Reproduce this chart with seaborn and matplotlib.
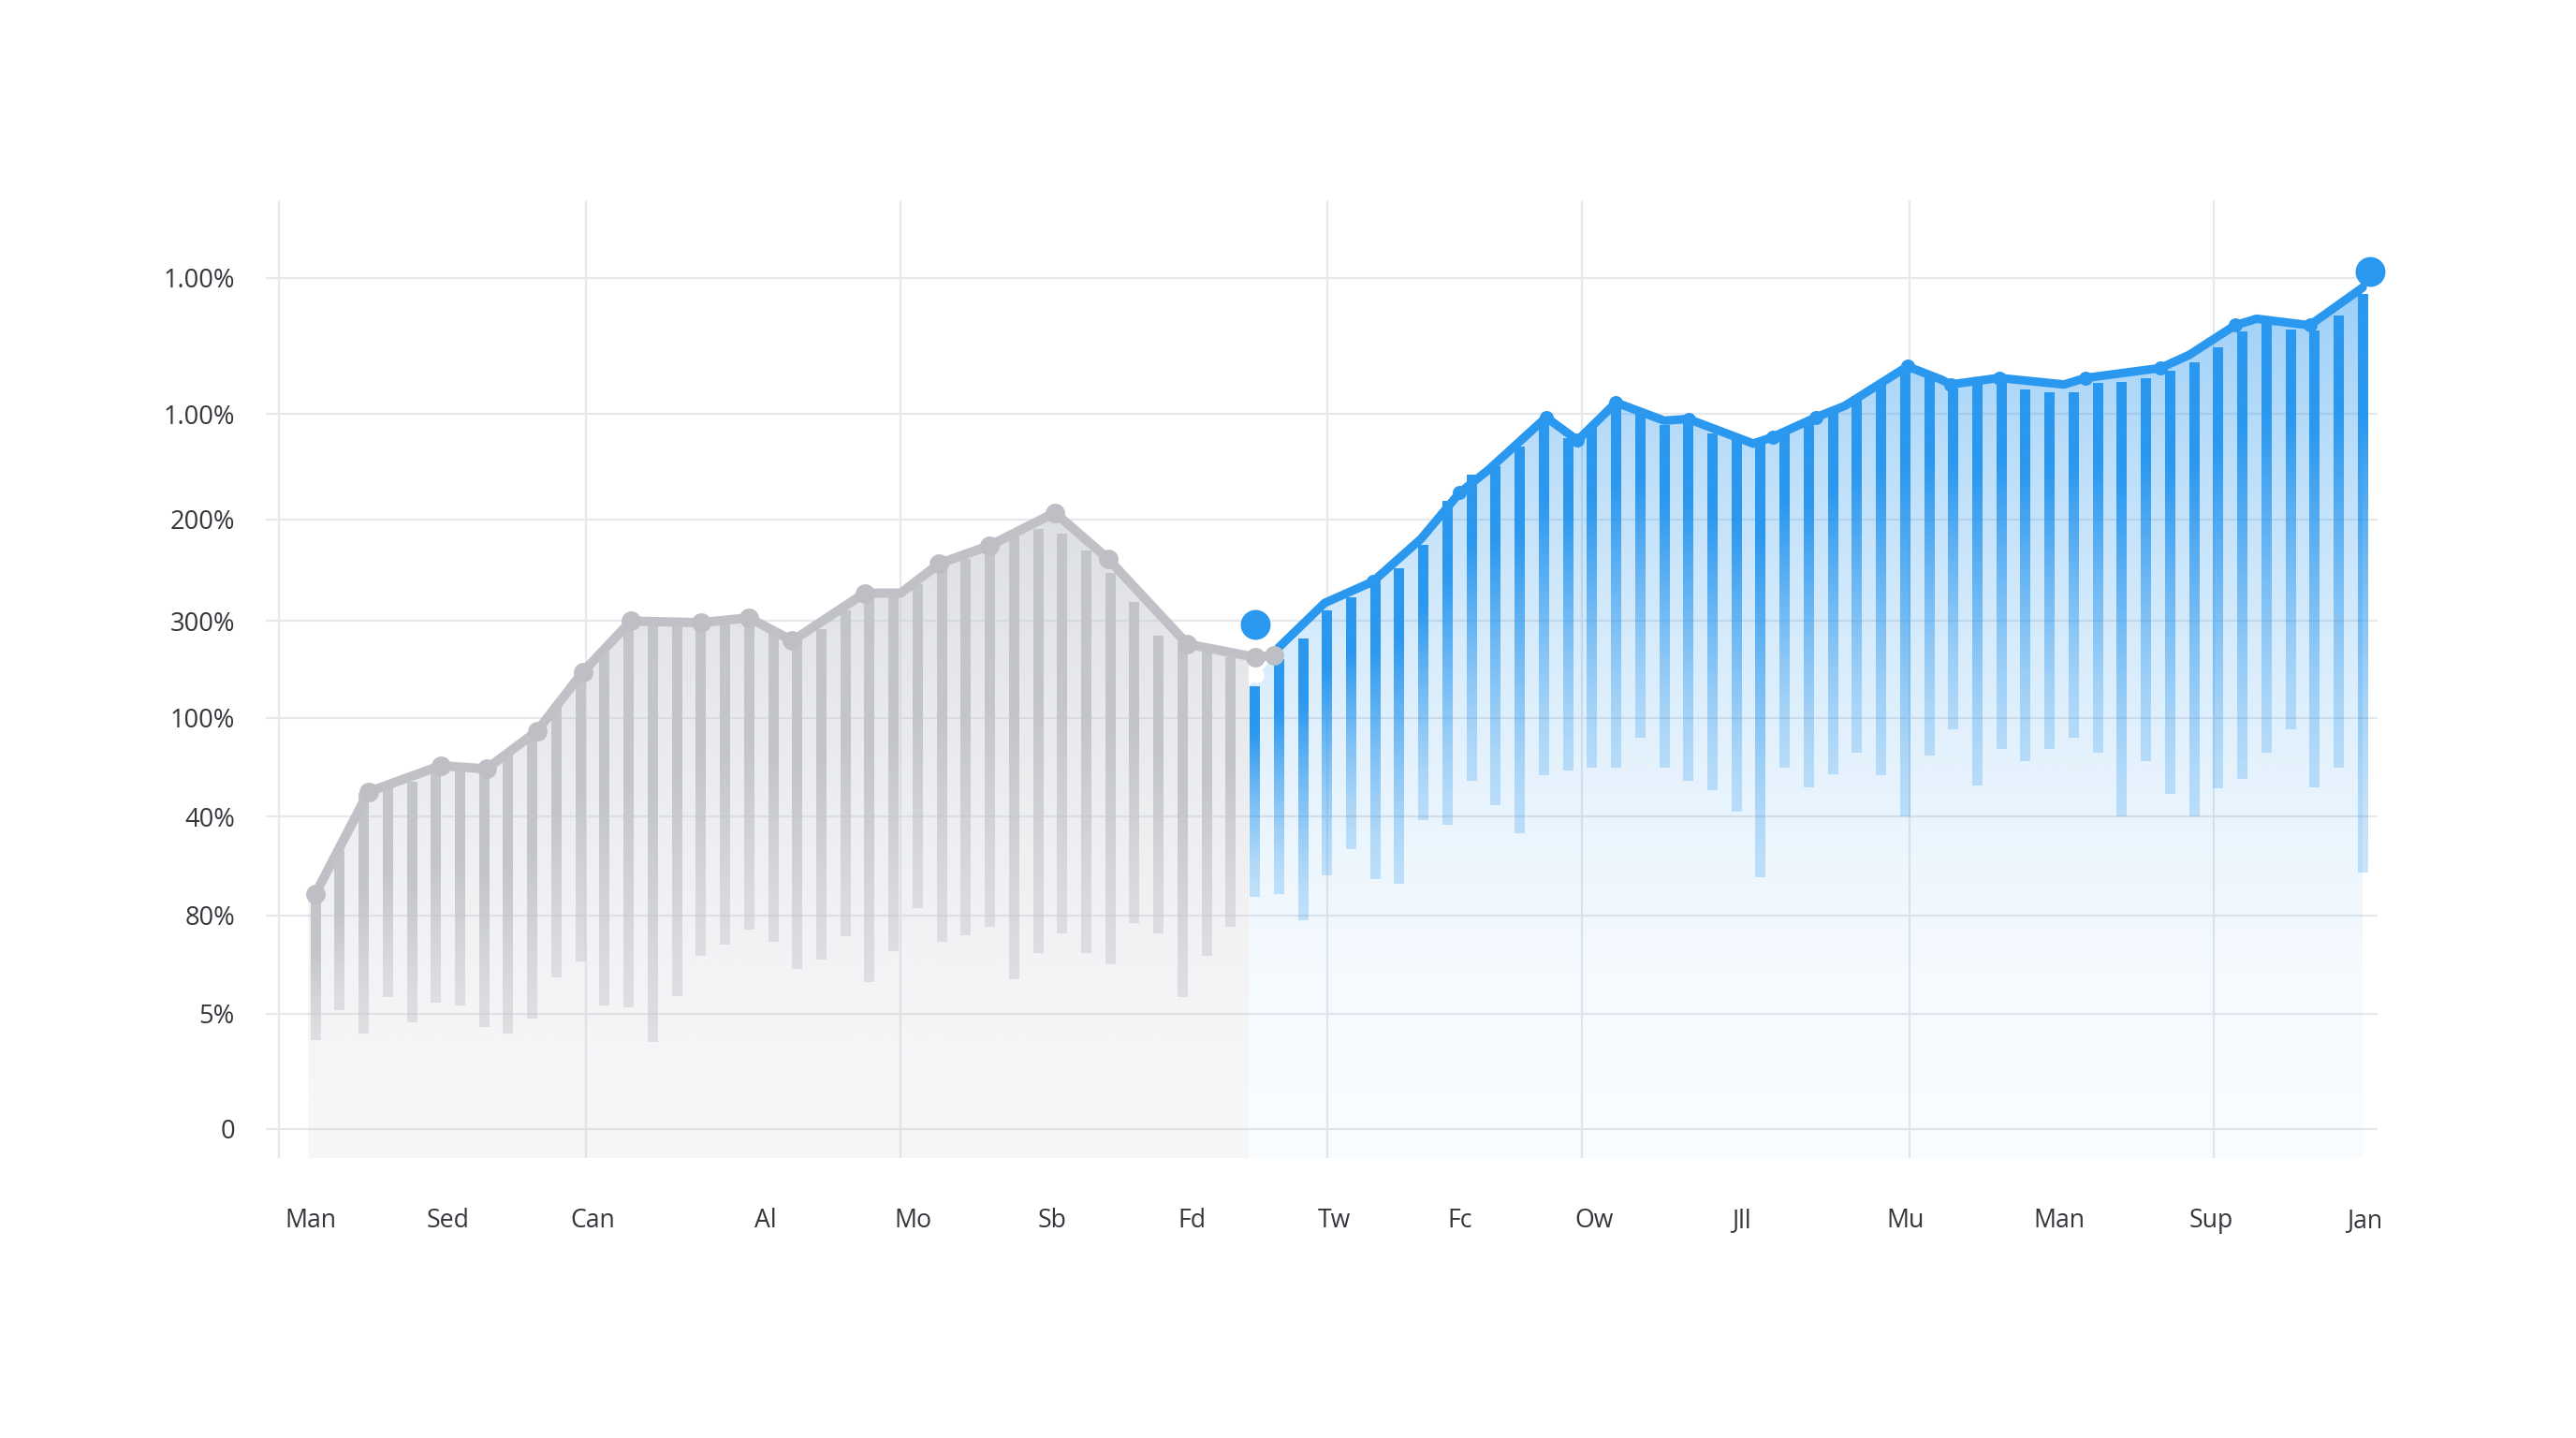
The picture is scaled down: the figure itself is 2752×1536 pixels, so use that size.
"""
Grey/blue range-bar trend chart with gradient bars and line overlay.
"""
import matplotlib
matplotlib.use("Agg")
import matplotlib.pyplot as plt
from matplotlib.patches import Polygon
from matplotlib.colors import to_rgb
import seaborn as sns
import pandas as pd
import numpy as np

sns.set_theme(style="white")
plt.rcParams["font.family"] = ["Open Sans", "DejaVu Sans"]

COLORS = {
    "grey_bar": "#c3c5ca",
    "grey_line": "#bfc1c6",
    "grey_area": "#c6c9cf",
    "blue": "#2b98ef",
    "grid": "#e6e8eb",
    "text": "#33363b",
}

# ---- data ----
GREY_TOP = [143, 169, 204, 207, 211, 221, 220, 219, 229, 241, 258, 278, 290,
            308, 308, 307, 307, 309, 311, 302, 297, 304, 315, 326, 326, 331,
            344, 347, 355, 360, 365, 362, 352, 338, 320, 300, 293, 290, 287]
GREY_BOTTOM = [54, 72, 58, 80, 65, 77, 75, 62, 58, 67, 92, 102, 75, 74, 53,
               81, 105, 112, 121, 114, 97, 103, 117, 89, 108, 134, 114, 118,
               123, 91, 107, 119, 107, 100, 125, 119, 80, 105, 123]
BLUE_TOP = [269, 286, 298, 315, 323, 331, 341, 355, 382, 398, 403, 415, 429,
            420, 428, 442, 438, 428, 430, 423, 419, 420, 426, 431, 438, 446,
            454, 462, 457, 450, 453, 456, 450, 448, 448, 454, 454, 457, 461,
            466, 475, 485, 491, 486, 486, 495, 508]
BLUE_BOTTOM = [141, 143, 127, 154, 170, 152, 149, 188, 185, 212, 197, 180,
               215, 218, 220, 220, 238, 220, 212, 206, 193, 153, 220, 208,
               216, 229, 215, 190, 227, 243, 209, 231, 224, 231, 238, 229,
               190, 224, 204, 190, 207, 213, 229, 243, 208, 220, 156]

GREY_LINE_X = [0, 2.2, 5.2, 7.1, 9.2, 11.1, 13.1, 16.0, 18.0, 19.8, 22.8,
               24.3, 25.9, 28.0, 30.7, 32.9, 36.2, 39.0, 39.8]
GREY_LINE_Y = [143, 205, 221, 219, 242, 278, 309, 308, 311, 297, 326,
               326, 344, 355, 375, 347, 295, 287, 288]
GREY_MARK_X = [0, 2.2, 5.2, 7.1, 9.2, 11.1, 13.1, 16.0, 18.0, 19.8, 22.8,
               25.9, 28.0, 30.7, 32.9, 36.2, 39.0, 39.8]
GREY_MARK_Y = [143, 205, 221, 219, 242, 278, 309, 308, 311, 297, 326,
               344, 355, 375, 347, 295, 287, 288]

BLUE_LINE_X = [39.8, 40.0, 41.9, 43.9, 45.9, 47.5, 48.7, 51.1, 52.4, 54.0,
               56.0, 57.0, 59.7, 60.5, 62.3, 63.5, 66.1, 67.5, 67.9, 69.9,
               72.6, 73.5, 76.6, 77.8, 79.7, 80.6, 82.8, 85.0]
BLUE_LINE_Y = [288, 293, 320, 333, 359, 387, 401, 433, 419, 442,
               431, 432, 417, 421, 433, 440, 464, 456, 453, 457,
               453, 457, 463, 471, 489, 493, 489, 512]
BLUE_MARK_X = [43.9, 47.5, 51.1, 52.4, 54.0, 57.0, 60.5, 62.3, 66.1, 67.9,
               69.9, 73.5, 76.6, 79.7, 82.8]
BLUE_MARK_Y = [333, 387, 433, 419, 442, 432, 421, 433, 464, 453,
               457, 457, 463, 489, 489]
HIGHLIGHT_X = [39.0, 85.3]
HIGHLIGHT_Y = [307, 522]

Y_TICK_POS = [0, 70, 130, 190, 250, 309, 371, 435, 518]
Y_TICK_LABELS = ["0", "5%", "80%", "40%", "100%", "300%", "200%",
                 "1.00%", "1.00%"]
X_TICK_POS = [-0.2, 5.5, 11.5, 18.7, 24.8, 30.6, 36.4, 42.3, 47.5, 53.1,
              59.2, 66.0, 72.4, 78.7, 85.1]
X_TICK_LABELS = ["Man", "Sed", "Can", "Al", "Mo", "Sb", "Fd", "Tw", "Fc",
                 "Ow", "Jll", "Mu", "Man", "Sup", "Jan"]
GRID_X = [-1.5, 11.25, 24.3, 42.0, 52.6, 66.2, 78.8]

XLIM = (-2.05, 85.6)
YLIM = (-18, 565)
SPLIT = 38.75
BAR_W = 0.42


def gradient(color, alphas):
    rgb = to_rgb(color)
    img = np.zeros((len(alphas), 1, 4))
    img[..., 0], img[..., 1], img[..., 2] = rgb
    img[:, 0, 3] = alphas
    return img


def draw_bars(ax, xs, tops, bottoms, color, a_low, full_frac, power):
    t = np.linspace(0, 1, 200)
    ramp = np.clip(t / (1 - full_frac), 0, 1) ** power
    img = gradient(color, a_low + (1 - a_low) * ramp)
    for x, top, bot in zip(xs, tops, bottoms):
        ax.imshow(img, extent=[x - BAR_W / 2, x + BAR_W / 2, bot, top],
                  origin="lower", aspect="auto", zorder=2,
                  interpolation="bilinear")


def draw_area(ax, poly_pts, color, alpha_fn, x0, x1):
    v = np.linspace(YLIM[0], YLIM[1], 300)
    img = gradient(color, alpha_fn(np.clip(v, 0, None)))
    im = ax.imshow(img, extent=[x0, x1, YLIM[0], YLIM[1]], origin="lower",
                   aspect="auto", zorder=1, interpolation="bilinear")
    poly = Polygon(poly_pts, closed=True, transform=ax.transData)
    im.set_clip_path(poly)


fig = plt.figure(figsize=(13.76, 7.68), dpi=200, facecolor="white")
ax = fig.add_axes([0.1033, 0.1945, 0.8195, 0.6661])
ax.set_facecolor("white")

grey_x = np.arange(len(GREY_TOP))
blue_x = np.arange(len(GREY_TOP), len(GREY_TOP) + len(BLUE_TOP))

# background areas under the lines
grey_poly = ([(-0.3, YLIM[0]), (-0.3, GREY_LINE_Y[0])]
             + list(zip(GREY_LINE_X[:-2], GREY_LINE_Y[:-2]))
             + [(SPLIT, GREY_LINE_Y[-2]), (SPLIT, YLIM[0])])
draw_area(ax, grey_poly, COLORS["grey_area"],
          lambda v: 0.16 + 0.34 * (v / 320) ** 1.5, -0.3, SPLIT)
blue_poly = ([(SPLIT, YLIM[0]), (SPLIT, BLUE_TOP[0])]
             + list(zip(BLUE_LINE_X, BLUE_LINE_Y))
             + [(BLUE_LINE_X[-1], YLIM[0])])
draw_area(ax, blue_poly, COLORS["blue"],
          lambda v: 0.03 + 0.36 * (v / 460) ** 1.8, SPLIT, BLUE_LINE_X[-1])

# gradient range bars
draw_bars(ax, grey_x, GREY_TOP, GREY_BOTTOM, COLORS["grey_bar"], 0.45, 0.4, 1.3)
draw_bars(ax, blue_x, BLUE_TOP, BLUE_BOTTOM, COLORS["blue"], 0.25, 0.22, 1.5)

# lines and markers
grey_df = pd.DataFrame({"x": GREY_LINE_X, "y": GREY_LINE_Y})
blue_df = pd.DataFrame({"x": BLUE_LINE_X, "y": BLUE_LINE_Y})
sns.lineplot(data=grey_df, x="x", y="y", sort=False, estimator=None,
             color=COLORS["grey_line"], linewidth=3.6, ax=ax, zorder=3,
             solid_capstyle="round", solid_joinstyle="round")
sns.lineplot(data=blue_df, x="x", y="y", sort=False, estimator=None,
             color=COLORS["blue"], linewidth=3.3, ax=ax, zorder=3,
             solid_capstyle="round", solid_joinstyle="round")
ax.plot(GREY_MARK_X, GREY_MARK_Y, "o", ms=7.5, color="#bdbfc4",
        mec="none", zorder=4)
ax.plot(BLUE_MARK_X, BLUE_MARK_Y, "o", ms=5.4, color=COLORS["blue"],
        mec="none", zorder=4)
ax.plot([SPLIT + 0.3], [BLUE_TOP[0] + 7], "o", ms=6, color="white",
        mec="none", zorder=3.5)
ax.plot(HIGHLIGHT_X, HIGHLIGHT_Y, "o", ms=11.5, color=COLORS["blue"],
        mec="none", zorder=5, clip_on=False)

# grid / axes styling
for gx in GRID_X:
    ax.axvline(gx, color=COLORS["grid"], linewidth=0.8, zorder=0)
ax.set_yticks(Y_TICK_POS)
ax.set_yticklabels(Y_TICK_LABELS)
ax.set_xticks(X_TICK_POS)
ax.set_xticklabels(X_TICK_LABELS)
ax.grid(axis="y", color=COLORS["grid"], linewidth=0.8, zorder=0)
ax.grid(axis="x", visible=False)
ax.set_axisbelow(True)
ax.tick_params(axis="y", length=0, pad=12, labelsize=9.8,
               labelcolor=COLORS["text"])
ax.tick_params(axis="x", length=0, pad=19, labelsize=9.6,
               labelcolor=COLORS["text"])
ax.set_xlabel("")
ax.set_ylabel("")
for s in ax.spines.values():
    s.set_visible(False)
ax.set_xlim(*XLIM)
ax.set_ylim(*YLIM)

fig.savefig("out.png", dpi=200, facecolor="white")
plt.close(fig)
